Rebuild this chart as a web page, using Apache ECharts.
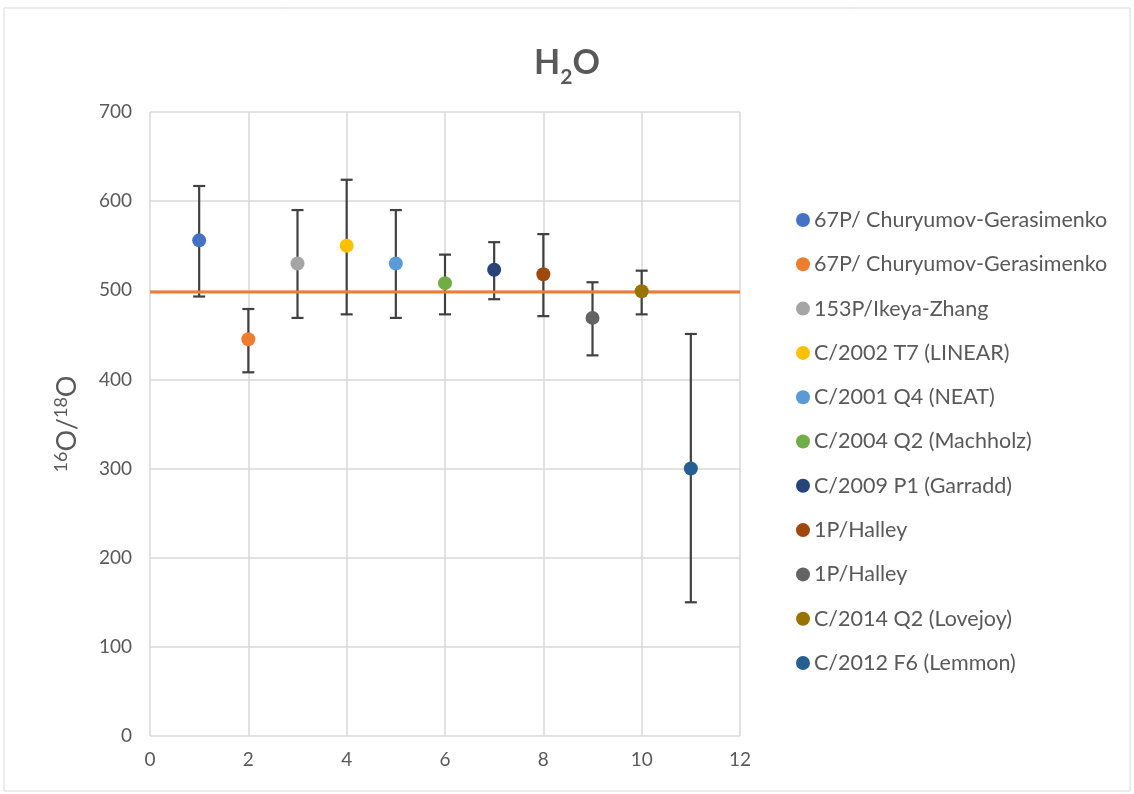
<!DOCTYPE html>
<html>
<head>
<meta charset="utf-8">
<script src="https://cdn.jsdelivr.net/npm/echarts@6/dist/echarts.min.js"></script>
<style>
  html, body { margin: 0; padding: 0; background: #fff; }
  #chart { width: 1134px; height: 794px; }
</style>
</head>
<body>
<div id="chart"></div>
<script>
// comets and their 16O/18O ratios
const names = [
  '67P/ Churyumov-Gerasimenko',
  '67P/ Churyumov-Gerasimenko ',
  '153P/Ikeya-Zhang',
  'C/2002 T7 (LINEAR)',
  'C/2001 Q4 (NEAT)',
  'C/2004 Q2 (Machholz)',
  'C/2009 P1 (Garradd)',
  '1P/Halley',
  '1P/Halley ',
  'C/2014 Q2 (Lovejoy)',
  'C/2012 F6 (Lemmon)'
];
const xs = [1, 2, 3, 4, 5, 6, 7, 8, 9, 10, 11];
const ratios = [556, 445, 530, 550, 530, 508, 523, 518, 469, 499, 300];
const upper = [617, 479, 590, 624, 590, 540, 554, 563, 509, 522, 451];
const lower = [493, 408, 469, 473, 469, 473, 490, 471, 427, 473, 150];
const refRatio = 498;
const colors = ['#4472C4', '#ED7D31', '#A5A5A5', '#FFC000', '#5B9BD5', '#70AD47',
                '#264478', '#9E480E', '#636363', '#997300', '#255E91'];

const txt = '#595959';
const font = 'Lato, "Open Sans", sans-serif';

const myChart = echarts.init(document.getElementById('chart'));

const pointSeries = names.map((name, i) => ({
  name: name,
  type: 'scatter',
  symbol: 'circle',
  symbolSize: 14,
  z: 5,
  itemStyle: { color: colors[i], opacity: 1 },
  data: [[xs[i], ratios[i]]]
}));

const option = {
  backgroundColor: '#fff',
  animation: false,
  textStyle: { fontFamily: font },
  graphic: [{
    type: 'rect',
    shape: { x: 4, y: 8, width: 1126, height: 783 },
    style: { fill: 'none', stroke: '#d9d9d9', lineWidth: 1 },
    silent: true
  }],
  title: {
    text: '{a|H}{s|2}{a|O}',
    left: 'center',
    top: 33,
    textStyle: {
      rich: {
        a: { fontSize: 34, fontWeight: 'bold', color: txt, fontFamily: font },
        s: { fontSize: 21, fontWeight: 'bold', color: txt, fontFamily: font, verticalAlign: 'bottom', padding: [29, 0, 0, 0] }
      }
    }
  },
  legend: {
    orient: 'vertical',
    left: 791,
    top: 204,
    itemGap: 22.3,
    itemWidth: 14,
    itemHeight: 14,
    icon: 'circle',
    data: names,
    textStyle: { color: txt, fontSize: 21.5, fontFamily: font, padding: [0, 0, 0, -1] }
  },
  grid: { left: 150, right: 394, top: 112, bottom: 58 },
  xAxis: {
    type: 'value',
    min: 0,
    max: 12,
    interval: 2,
    axisLine: { show: false },
    axisTick: { show: false },
    axisLabel: { color: txt, fontSize: 19, margin: 14, fontFamily: font },
    splitLine: { show: true, lineStyle: { color: '#d9d9d9', width: 1.5 } }
  },
  yAxis: {
    type: 'value',
    min: 0,
    max: 700,
    interval: 100,
    name: '{p|16}{b|O/}{p|18}{b|O}',
    nameLocation: 'middle',
    nameGap: 68,
    nameRotate: 90,
    nameTextStyle: {
      rich: {
        b: { fontSize: 27, color: txt, fontFamily: font },
        p: { fontSize: 18, color: txt, fontFamily: font, verticalAlign: 'top', padding: [0, 0, 12, 0] }
      }
    },
    axisLine: { show: false },
    axisTick: { show: false },
    axisLabel: { color: txt, fontSize: 19, margin: 18, fontFamily: font },
    splitLine: { lineStyle: { color: '#d9d9d9', width: 1.5 } }
  },
  series: [
    {
      name: 'errors',
      type: 'custom',
      z: 2,
      silent: true,
      data: xs.map((x, i) => [x, lower[i], upper[i]]),
      renderItem: function (params, api) {
        const lo = api.coord([api.value(0), api.value(1)]);
        const hi = api.coord([api.value(0), api.value(2)]);
        const w = 6;
        const st = { stroke: '#404040', lineWidth: 2.2 };
        return {
          type: 'group',
          children: [
            { type: 'line', shape: { x1: lo[0], y1: lo[1], x2: hi[0], y2: hi[1] }, style: st },
            { type: 'line', shape: { x1: lo[0] - w, y1: lo[1], x2: lo[0] + w, y2: lo[1] }, style: st },
            { type: 'line', shape: { x1: hi[0] - w, y1: hi[1], x2: hi[0] + w, y2: hi[1] }, style: st }
          ]
        };
      }
    },
    {
      name: 'reference',
      type: 'line',
      z: 3,
      symbol: 'none',
      silent: true,
      lineStyle: { color: '#ED7D31', width: 3 },
      data: [[0, refRatio], [12, refRatio]]
    }
  ].concat(pointSeries)
};

myChart.setOption(option);
window.addEventListener('resize', () => myChart.resize());
</script>
</body>
</html>
